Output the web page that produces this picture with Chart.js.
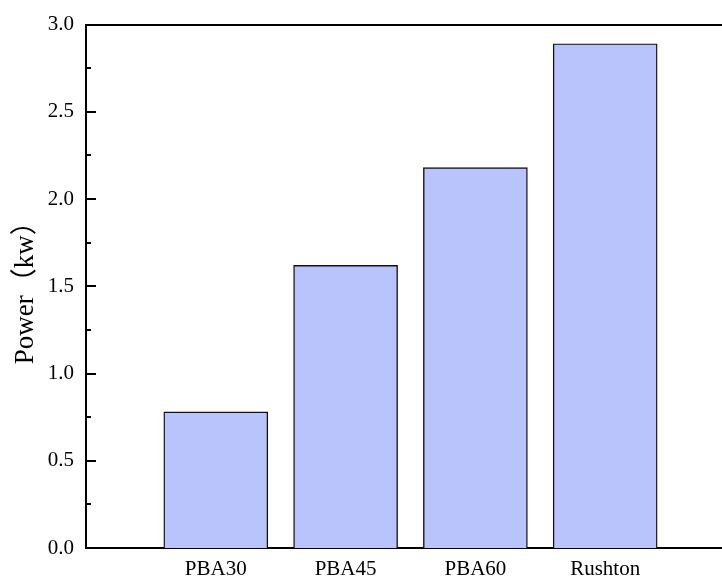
<!DOCTYPE html>
<html>
<head>
<meta charset="utf-8">
<script src="https://cdn.jsdelivr.net/npm/chart.js@4/dist/chart.umd.min.js"></script>
<style>
  html, body { margin: 0; padding: 0; background: #fff; }
  #wrap { width: 722px; height: 578px; }
</style>
</head>
<body>
<div id="wrap"><canvas id="c" width="722" height="578"></canvas></div>
<script>
// Impeller types and their measured power draw
const categories = ['PBA30', 'PBA45', 'PBA60', 'Rushton'];
const powerKw = [0.78, 1.62, 2.18, 2.89];
const yTicks = [0.0, 0.5, 1.0, 1.5, 2.0, 2.5, 3.0];

const serif = "'Times New Roman', 'Liberation Serif', 'DejaVu Serif', serif";
const titleFont = "'Times New Roman', 'Liberation Serif', 'Noto Sans CJK SC', serif";

// Inward-pointing major/minor tick marks on the left axis
const inwardTicks = {
  id: 'inwardTicks',
  afterDatasetsDraw(chart) {
    const y = chart.scales.y;
    const ctx = chart.ctx;
    const x0 = chart.chartArea.left;
    ctx.save();
    ctx.strokeStyle = '#000';
    ctx.lineWidth = 2;
    for (let i = 0; i < yTicks.length; i++) {
      const v = yTicks[i];
      const py = Math.round(y.getPixelForValue(v));
      ctx.beginPath();
      ctx.moveTo(x0, py);
      ctx.lineTo(x0 + 10, py);
      ctx.stroke();
      if (i < yTicks.length - 1) {
        const pm = Math.round(y.getPixelForValue((v + yTicks[i + 1]) / 2));
        ctx.beginPath();
        ctx.moveTo(x0, pm);
        ctx.lineTo(x0 + 5, pm);
        ctx.stroke();
      }
    }
    ctx.restore();
  }
};

new Chart(document.getElementById('c'), {
  type: 'bar',
  data: {
    datasets: [{
      data: categories.map((c, i) => ({ x: i + 1, y: powerKw[i] })),
      backgroundColor: '#b9c4fd',
      borderColor: '#111',
      borderWidth: 1.4,
      barThickness: 104
    }]
  },
  options: {
    responsive: false,
    animation: false,
    layout: { padding: { top: 22, right: 0, bottom: 0, left: 0 } },
    plugins: { legend: { display: false }, tooltip: { enabled: false } },
    scales: {
      x: {
        type: 'linear',
        min: 0,
        max: 4.9,
        offset: false,
        grid: { display: false, drawTicks: false },
        border: { display: true, color: '#000', width: 2 },
        afterBuildTicks(scale) {
          scale.ticks = categories.map((c, i) => ({ value: i + 1 }));
        },
        afterFit(scale) { scale.height = 30; },
        ticks: {
          autoSkip: false,
          maxRotation: 0,
          padding: 11,
          color: '#000',
          font: { family: serif, size: 21, lineHeight: 1.0 },
          callback: (v) => categories[v - 1] || ''
        }
      },
      xTop: {
        type: 'linear',
        position: 'top',
        min: 0,
        max: 4.9,
        grid: { display: false, drawTicks: false },
        border: { display: true, color: '#000', width: 2 },
        ticks: { display: false }
      },
      y: {
        min: 0,
        max: 3,
        afterBuildTicks(scale) {
          scale.ticks = yTicks.map(v => ({ value: v }));
        },
        afterFit(scale) { scale.width = 86; },
        grid: { display: false, drawTicks: false },
        border: { display: true, color: '#000', width: 2 },
        ticks: {
          padding: 12,
          color: '#000',
          font: { family: serif, size: 21 },
          callback: (v) => Number(v).toFixed(1)
        },
        title: {
          display: true,
          text: 'Power（kw）',
          color: '#000',
          font: { family: titleFont, size: 27, lineHeight: 1.2 },
          padding: { top: 10, bottom: 6 }
        }
      }
    }
  },
  plugins: [inwardTicks]
});
</script>
</body>
</html>
